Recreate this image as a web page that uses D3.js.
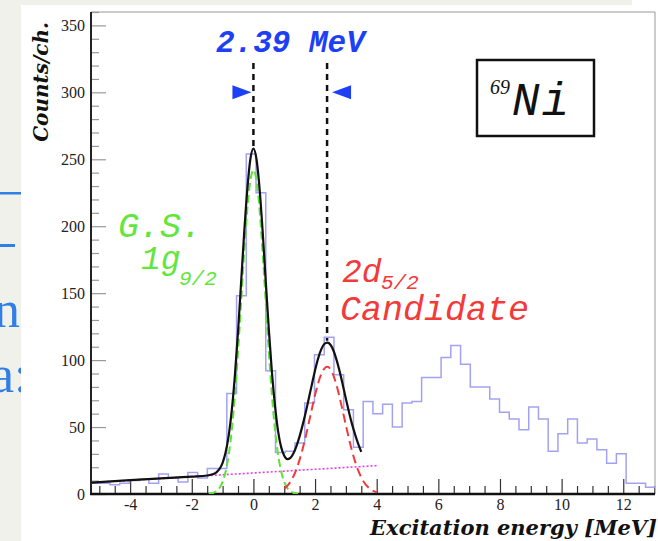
<!DOCTYPE html>
<html>
<head>
<meta charset="utf-8">
<script src="https://cdn.jsdelivr.net/npm/d3@7"></script>
<style>
  body { margin: 0; background: #f1f1ec; }
  svg { display: block; }
  .tick text { font-family: "Liberation Serif", serif; font-size: 16px; fill: #222; }
  .label { font-family: "Liberation Mono", monospace; font-style: italic; }
  .title { font-family: "DejaVu Serif", serif; font-style: italic; font-weight: bold; fill: #111; }
</style>
</head>
<body>
<svg class="chart" width="658" height="541"></svg>
<script>
// 69Ni excitation energy spectrum, counts per channel
const binStart = -5.287
const binWidth = 0.316
const counts = [8, 8, 7, 8, 10, 11, 8, 15, 12, 9,
                16, 12, 19, 19, 75, 148, 254, 225, 92, 31,
                32, 38, 68, 104, 117, 89, 63, 35, 69, 60,
                67, 50, 68, 69, 87, 87, 102, 111, 97, 80,
                80, 71, 61, 56, 48, 65, 56, 32, 45, 56,
                38, 41, 33, 23, 30, 8, 8, 5]

// fit components, [energy, counts]
const background = [[-5.27, 8.5], [4.0, 21.2]]
const gsPeak = [[-1.45, 0.2], [-1.3, 0.9], [-1.2, 2.1], [-1.1, 4.5], [-1.0, 9], [-0.9, 17], [-0.8, 29.5],
                [-0.7, 48], [-0.6, 74], [-0.5, 106], [-0.4, 143], [-0.3, 180], [-0.2, 212], [-0.1, 234],
                [0, 242], [0.1, 234], [0.2, 212], [0.3, 180], [0.4, 143], [0.5, 106], [0.6, 74], [0.7, 48],
                [0.8, 29.5], [0.9, 17], [1.0, 9], [1.1, 4.5], [1.2, 2.1], [1.3, 0.9], [1.45, 0.2]]
const d52Peak = [[1.0, 3.9], [1.1, 6.1], [1.2, 9.2], [1.3, 13.3], [1.4, 18.8], [1.5, 25.7], [1.6, 33.9],
                 [1.7, 43.2], [1.8, 53.5], [1.9, 63.9], [2.0, 73.9], [2.1, 82.7], [2.2, 89.5], [2.3, 93.7],
                 [2.4, 95], [2.5, 93.1], [2.6, 88.3], [2.7, 81], [2.8, 71.9], [2.9, 61.8], [3.0, 51.4],
                 [3.1, 41.3], [3.2, 32.1], [3.3, 24.2], [3.4, 17.6], [3.5, 12.4], [3.6, 8.4], [3.7, 5.6],
                 [3.8, 3.6], [3.9, 2.2], [4.0, 1.3]]
const totalFit = [[-5.27, 8.5], [-4, 10.3], [-3, 11.6], [-2, 13], [-1.5, 13.8], [-1.3, 14.9], [-1.2, 16.2],
                  [-1.1, 18.7], [-1.0, 23.3], [-0.9, 31.4], [-0.8, 44], [-0.7, 63], [-0.6, 89], [-0.5, 121],
                  [-0.4, 158], [-0.3, 195], [-0.2, 227], [-0.1, 250], [0, 258], [0.1, 250], [0.2, 228],
                  [0.3, 196], [0.4, 159], [0.5, 123], [0.6, 91], [0.7, 66], [0.8, 47], [0.9, 35], [1.0, 28.5],
                  [1.1, 26], [1.2, 27], [1.3, 30.5], [1.4, 36], [1.5, 43.2], [1.6, 51.8], [1.7, 61.3],
                  [1.8, 71.7], [1.9, 82.2], [2.0, 92.4], [2.1, 101.3], [2.2, 108], [2.3, 112], [2.4, 113],
                  [2.5, 111.5], [2.6, 107], [2.7, 100], [2.8, 91.4], [2.9, 81.5], [3.0, 71.2], [3.1, 61.3],
                  [3.2, 52.2], [3.3, 44.4], [3.4, 37.5], [3.5, 31.5]]

const peakEnergies = [0, 2.39]
const xTicks = [-4, -2, 0, 2, 4, 6, 8, 10, 12]
const yTicks = [0, 50, 100, 150, 200, 250, 300, 350]

let svg = d3.select("svg.chart")
let width = +svg.attr("width")
let height = +svg.attr("height")

let mLeft = 91, mRight = 655, mTop = 12, mBottom = 494

// slide background with clipped text from the next slide
svg.append("rect").attr("width", width).attr("height", height).attr("fill", "#f1f1ec")
let frag = svg.append("g").attr("fill", "#2f7fe4")
frag.append("rect").attr("x", 0).attr("y", 192).attr("width", 21).attr("height", 2.5)
frag.append("rect").attr("x", 0).attr("y", 244).attr("width", 15).attr("height", 3)
frag.append("text").attr("x", -6).attr("y", 327)
    .style("font", "52px 'Liberation Serif', serif").text("n")
frag.append("text").attr("x", -9).attr("y", 392)
    .style("font", "52px 'Liberation Serif', serif").text("a:")

svg.append("rect").attr("x", 21).attr("y", 5).attr("width", width - 21).attr("height", height - 5).attr("fill", "#fff")
svg.append("rect").attr("x", 632).attr("y", 0).attr("width", width - 632).attr("height", 6).attr("fill", "#fff")

let x = d3.scaleLinear().domain([-5.27, 13.03]).range([mLeft, mRight])
let y = d3.scaleLinear().domain([0, 360]).range([mBottom, mTop])

svg.append("clipPath").attr("id", "plot")
  .append("rect").attr("x", mLeft).attr("y", mTop).attr("width", mRight - mLeft).attr("height", mBottom - mTop)

// axes: ticks drawn inward like ROOT
let yMinor = d3.range(0, 361, 10).filter(v => v % 50 !== 0)
let xMinor = d3.range(-5, 13.01, 0.5).filter(v => v % 2 !== 0)

let gy = svg.append("g").attr("transform", `translate(${mLeft},0)`)
    .call(d3.axisLeft(y).tickValues(yTicks).tickSizeInner(-15).tickSizeOuter(0).tickPadding(6).tickFormat(d => d))
gy.selectAll(".tick line").attr("stroke", "#999").attr("stroke-width", 1.2)
svg.append("g").attr("transform", `translate(${mLeft},0)`)
    .call(d3.axisLeft(y).tickValues(yMinor).tickSize(-8).tickFormat(""))
    .selectAll(".tick line").attr("stroke", "#999").attr("stroke-width", 1.2)

let gx = svg.append("g").attr("transform", `translate(0,${mBottom})`)
    .call(d3.axisBottom(x).tickValues(xTicks).tickSizeInner(-15).tickSizeOuter(0).tickPadding(5).tickFormat(d => String(d)))
gx.selectAll(".tick line").attr("stroke", "#333").attr("stroke-width", 1.2)
svg.append("g").attr("transform", `translate(0,${mBottom})`)
    .call(d3.axisBottom(x).tickValues(xMinor).tickSize(-8).tickFormat(""))
    .selectAll(".tick line").attr("stroke", "#333").attr("stroke-width", 1.2)

svg.selectAll(".domain").remove()

// frame
svg.append("line").attr("x1", mLeft).attr("x2", mRight).attr("y1", mTop).attr("y2", mTop).attr("stroke", "#999")
svg.append("line").attr("x1", mRight).attr("x2", mRight).attr("y1", mTop).attr("y2", mBottom).attr("stroke", "#999")
svg.append("line").attr("x1", mLeft).attr("x2", mLeft).attr("y1", mTop).attr("y2", mBottom + 1)
    .attr("stroke", "#222").attr("stroke-width", 2)
svg.append("line").attr("x1", mLeft - 1).attr("x2", mRight).attr("y1", mBottom).attr("y2", mBottom)
    .attr("stroke", "#111").attr("stroke-width", 2.5)

let plot = svg.append("g").attr("clip-path", "url(#plot)")

// histogram outline
let histPts = counts.map((c, i) => [binStart + i * binWidth, c])
histPts.push([binStart + counts.length * binWidth, counts[counts.length - 1]])
plot.append("path")
    .datum(histPts)
    .attr("fill", "none")
    .attr("stroke", "#a2a2f2")
    .attr("stroke-width", 1.5)
    .attr("d", d3.line().x(d => x(d[0])).y(d => y(d[1])).curve(d3.curveStepAfter))

let smooth = d3.line().x(d => x(d[0])).y(d => y(d[1])).curve(d3.curveMonotoneX)

plot.append("path").datum(background)
    .attr("fill", "none").attr("stroke", "#e83ee8").attr("stroke-width", 1.6)
    .attr("stroke-dasharray", "2,2").attr("d", smooth)

plot.append("path").datum(gsPeak)
    .attr("fill", "none").attr("stroke", "#5fe03a").attr("stroke-width", 2)
    .attr("stroke-dasharray", "8,4").attr("d", smooth)

plot.append("path").datum(d52Peak)
    .attr("fill", "none").attr("stroke", "#f03a3a").attr("stroke-width", 2)
    .attr("stroke-dasharray", "9,5").attr("d", smooth)

plot.append("path").datum(totalFit)
    .attr("fill", "none").attr("stroke", "#111").attr("stroke-width", 2.2)
    .attr("d", smooth)

// peak markers
let fitAt = e => totalFit.reduce((a, b) => Math.abs(b[0] - e) < Math.abs(a[0] - e) ? b : a)[1]

svg.append("g").selectAll("line")
  .data(peakEnergies)
  .enter().append("line")
    .attr("x1", d => x(d)).attr("x2", d => x(d))
    .attr("y1", y(322)).attr("y2", d => y(fitAt(d)) - 2)
    .attr("stroke", "#111").attr("stroke-width", 2.5)
    .attr("stroke-dasharray", "6,5")

let ty = y(300)
svg.append("path")
    .attr("d", `M${x(peakEnergies[0]) - 2},${ty} L${x(peakEnergies[0]) - 21},${ty - 7} L${x(peakEnergies[0]) - 21},${ty + 7} Z`)
    .attr("fill", "#1e40f5")
svg.append("path")
    .attr("d", `M${x(peakEnergies[1]) + 5},${ty} L${x(peakEnergies[1]) + 24},${ty - 7} L${x(peakEnergies[1]) + 24},${ty + 7} Z`)
    .attr("fill", "#1e40f5")

svg.append("text").attr("class", "label")
    .attr("x", 216).attr("y", 52)
    .style("font-size", "31px").style("font-weight", "bold").attr("fill", "#1e40f5")
    .text("2.39 MeV")

// level labels
let green = "#62e63c", red = "#f23a3a"
svg.append("text").attr("class", "label").attr("x", 118).attr("y", 237)
    .style("font-size", "35px").attr("fill", green).text("G.S.")
svg.append("text").attr("class", "label").attr("x", 141).attr("y", 269)
    .style("font-size", "33px").attr("fill", green).text("1g")
svg.append("text").attr("class", "label").attr("x", 179).attr("y", 285)
    .style("font-size", "21px").attr("fill", green).text("9/2")

svg.append("text").attr("class", "label").attr("x", 342).attr("y", 282)
    .style("font-size", "33px").attr("fill", red).text("2d")
svg.append("text").attr("class", "label").attr("x", 381).attr("y", 289)
    .style("font-size", "21px").attr("fill", red).text("5/2")
svg.append("text").attr("class", "label").attr("x", 340).attr("y", 320)
    .style("font-size", "35px").attr("fill", red).text("Candidate")

// nucleus box
svg.append("rect").attr("x", 477).attr("y", 60).attr("width", 117).attr("height", 76)
    .attr("fill", "#fff").attr("stroke", "#111").attr("stroke-width", 2.5)
svg.append("text").attr("x", 490).attr("y", 94)
    .style("font", "italic 20px 'Liberation Serif', serif").attr("fill", "#111").text("69")
svg.append("text").attr("class", "label").attr("x", 512).attr("y", 115)
    .style("font-size", "46px").style("letter-spacing", "2px").attr("fill", "#111").text("Ni")

// axis titles
svg.append("text").attr("class", "title")
    .attr("transform", "translate(48,22) rotate(-90)")
    .attr("text-anchor", "end")
    .style("font-size", "20px")
    .text("Counts/ch.")
svg.append("text").attr("class", "title")
    .attr("x", 657).attr("y", 535)
    .attr("text-anchor", "end")
    .style("font-size", "21px")
    .text("Excitation energy [MeV]")
</script>
</body>
</html>
